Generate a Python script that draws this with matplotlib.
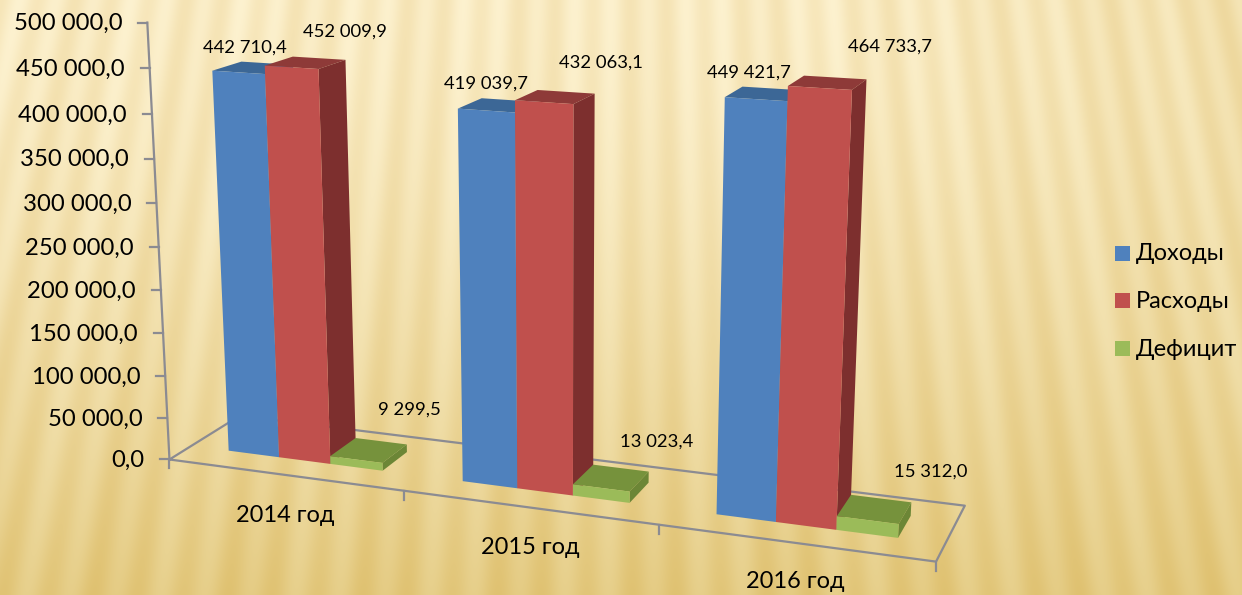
import numpy as np
import matplotlib
matplotlib.use("Agg")
import matplotlib.pyplot as plt

plt.rcParams['font.family'] = ['Lato', 'Noto Sans', 'DejaVu Sans']

kategorii = ["2014 год", "2015 год", "2016 год"]
serii = ["Доходы", "Расходы", "Дефицит"]
dohody = [442710.4, 419039.7, 449421.7]
rashody = [452009.9, 432063.1, 464733.7]
deficit = [9299.5, 13023.4, 15312.0]
metki_dohody = ["442 710,4", "419 039,7", "449 421,7"]
metki_rashody = ["452 009,9", "432 063,1", "464 733,7"]
metki_deficit = ["9 299,5", "13 023,4", "15 312,0"]
os_y = [0, 50000, 100000, 150000, 200000, 250000, 300000, 350000, 400000, 450000, 500000]
metki_y = ["0,0", "50 000,0", "100 000,0", "150 000,0", "200 000,0", "250 000,0",
           "300 000,0", "350 000,0", "400 000,0", "450 000,0", "500 000,0"]

WIDTH = 1242
HEIGHT = 595
VMAX = 500000.0
D0 = 0.3
D1 = 0.7
BAR = 1 / 4.5
OFFSET = 0.75 * BAR

# calibration of the 3d scale: (category pos, value/VMAX, depth) -> pixel
kalibr = [
    (0, 0, 0, 170, 459), (1, 0, 0, 404, 490), (2, 0, 0, 658, 525), (3, 0, 0, 935, 565),
    (3, 0, 1, 965, 505), (0, 0, 1, 240, 416), (0, 1, 0, 147, 22),
    (0.1667, 0, D0, 228, 451), (0.1667, 0.885, D0, 212, 71),
    (0.611, 0, D0, 330, 464), (0.611, 0.904, D0, 320, 69),
    (1.1667, 0, D0, 463, 481), (1.1667, 0.838, D0, 458, 109),
    (1.611, 0, D0, 573, 495), (1.611, 0.864, D0, 573, 105),
    (2.1667, 0, D0, 718, 512), (2.1667, 0.899, D0, 725, 97),
    (2.611, 0, D0, 837, 528), (2.611, 0.929, D0, 852, 90),
    (0.611, 0.904, D1, 345, 60), (2.611, 0.929, D1, 866, 79),
    (0.833, 0.0186, D1, 406, 446), (2.833, 0.0306, D1, 911, 503),
]


def podgon(tochki):
    rows = []
    for x, v, d, px, py in tochki:
        rows.append([x, v, d, 1, 0, 0, 0, 0, -px * x, -px * v, -px * d, -px])
        rows.append([0, 0, 0, 0, x, v, d, 1, -py * x, -py * v, -py * d, -py])
    return np.linalg.svd(np.array(rows, dtype=float))[2][-1].reshape(3, 4)


P = podgon(kalibr)


def pt(x, value, d):
    h = P @ np.array([x, value / VMAX, d, 1.0])
    return h[0] / h[2], h[1] / h[2]


def fon():
    yy, xx = np.mgrid[0:HEIGHT, 0:WIDTH]
    t = yy / HEIGHT
    # stripes fan out from a point far above the picture
    u = (xx - 620) * 2800 / (yy + 2800)
    polosy = np.sin(2 * np.pi * u / 37.0) * 0.5 + 0.5
    polosy2 = np.sin(2 * np.pi * u / 113.0) * 0.5 + 0.5
    verh = np.array([253, 242, 208]) / 255
    niz = np.array([231, 208, 140]) / 255
    sprava = np.clip((xx - 850) / 392, 0, 1) * (1 - t)
    smes = np.clip(t ** 1.5 + 0.32 * sprava, 0, 1)[..., None]
    img = verh * (1 - smes) + niz * smes
    ten = (0.05 * polosy + 0.02 * polosy2)[..., None]
    return np.clip(img - ten * np.array([0.45, 0.85, 1.6]), 0, 1)


def stolbik(ax, x, value, perednij, verh, bok):
    x2 = x + BAR
    ax.fill(*zip(pt(x, value, D0), pt(x2, value, D0), pt(x2, value, D1), pt(x, value, D1)),
            color=verh, lw=0, zorder=3)
    ax.fill(*zip(pt(x2, 0, D0), pt(x2, value, D0), pt(x2, value, D1), pt(x2, 0, D1)),
            color=bok, lw=0, zorder=3)
    ax.fill(*zip(pt(x, 0, D0), pt(x2, 0, D0), pt(x2, value, D0), pt(x, value, D0)),
            color=perednij, lw=0, zorder=3)


fig = plt.figure(figsize=(WIDTH / 100, HEIGHT / 100), dpi=100)
ax = fig.add_axes([0, 0, 1, 1])
ax.set_xlim(0, WIDTH)
ax.set_ylim(HEIGHT, 0)
ax.axis("off")
ax.imshow(fon(), extent=(0, WIDTH, HEIGHT, 0), aspect="auto", zorder=0)

SERAYA = "#8b8b92"
# floor and value axis
pol = [pt(0, 0, 0), pt(3, 0, 0), pt(3, 0, 1), pt(0, 0, 1), pt(0, 0, 0)]
ax.plot(*zip(*pol), color=SERAYA, lw=1.6, zorder=1)
ax.plot(*zip(pt(0, 0, 0), pt(0, VMAX, 0)), color=SERAYA, lw=1.6, zorder=1)
for v, s in zip(os_y, metki_y):
    x0, y0 = pt(0, v, 0)
    ax.plot([x0 - 9, x0], [y0, y0], color=SERAYA, lw=1.6, zorder=1)
    ax.text(x0 - 25, y0 + 1, s, ha="right", va="center", fontsize=17.2, color="black")
for k in range(4):
    x0, y0 = pt(k, 0, 0)
    ax.plot([x0, x0], [y0, y0 + 9], color=SERAYA, lw=1.6, zorder=1)

# bars
for k in range(3):
    x = k + OFFSET
    stolbik(ax, x, dohody[k], "#4f81bd", "#3c6796", "#3c6796")
    stolbik(ax, x + BAR, rashody[k], "#c0504d", "#8e3a38", "#7d2f2e")
    stolbik(ax, x + 2 * BAR, deficit[k], "#9bbb59", "#76923c", "#6c8636")

pos_dohody = [(244.5, 48), (486, 84), (749, 73)]
pos_rashody = [(344.5, 32), (601, 63), (890, 47)]
pos_deficit = [(409, 410), (657, 442), (931, 472)]
for metki, poz in ((metki_dohody, pos_dohody), (metki_rashody, pos_rashody), (metki_deficit, pos_deficit)):
    for s, (x, y) in zip(metki, poz):
        ax.text(x, y, s, ha="center", va="center", fontsize=13.3, color="black", zorder=5)

pos_kat = [(285, 515), (530, 548), (795, 582)]
for s, (x, y) in zip(kategorii, pos_kat):
    ax.text(x, y, s, ha="center", va="center", fontsize=17, color="black", zorder=5)

for s, c, y in zip(serii, ["#4f81bd", "#c0504d", "#9bbb59"], [253, 300, 348]):
    ax.add_patch(plt.Rectangle((1115, y - 7.5), 15, 15, color=c, lw=0, zorder=5))
    ax.text(1136, y + 1, s, ha="left", va="center", fontsize=17, color="black", zorder=5)

fig.savefig("out.png", dpi=100)
